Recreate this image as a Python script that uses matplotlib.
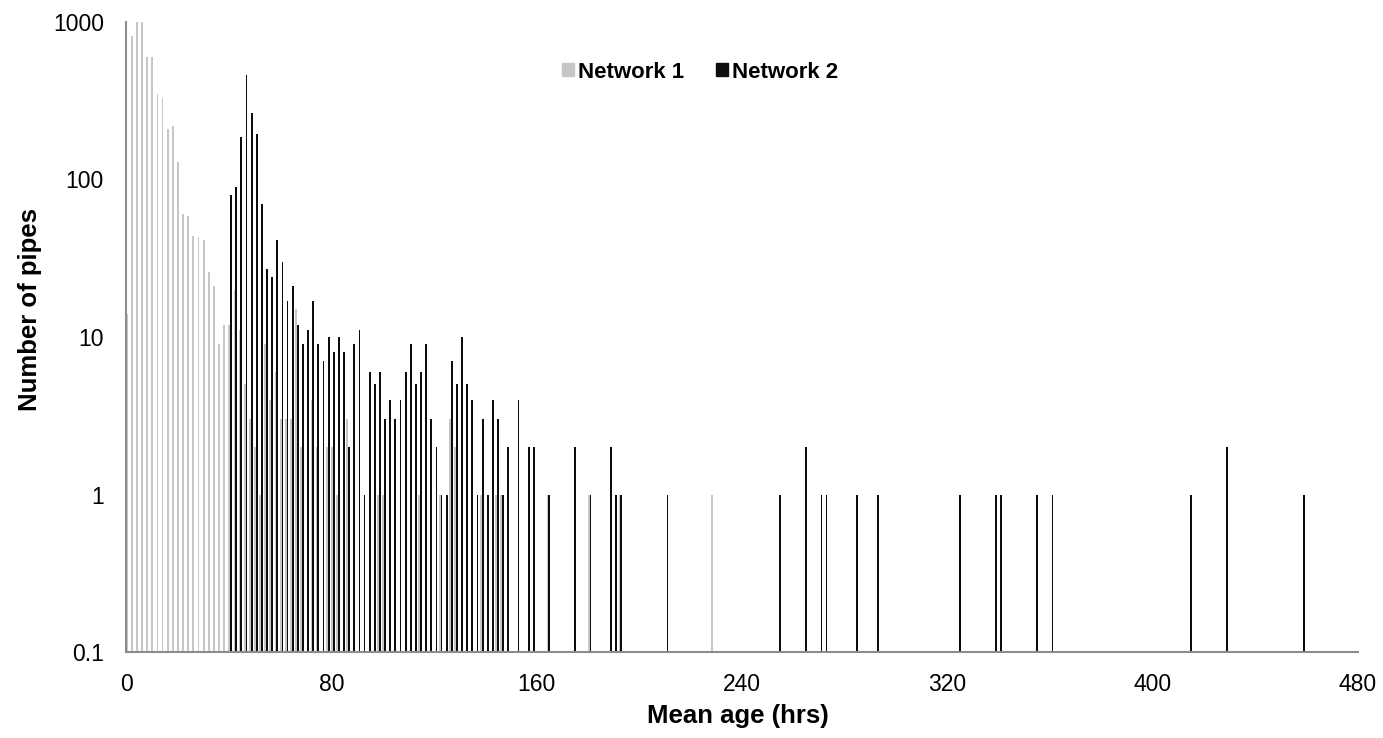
import numpy as np
import matplotlib
matplotlib.use("Agg")
import matplotlib.pyplot as plt
from matplotlib.patches import Patch

plt.rcParams['font.family'] = ['Liberation Sans', 'DejaVu Sans']

# Network 1 (grey): mean age bin (hrs) and number of pipes
hrs1 = [0, 2, 4, 6, 8, 10, 12, 14, 16, 18, 20, 22, 24, 26, 28, 30, 32, 34, 36, 38,
        40, 42, 44, 46, 48, 50, 52, 54, 56, 58, 60, 62, 64, 66, 68, 72, 74, 78, 80,
        82, 86, 98, 100, 114, 122, 126, 128, 138, 144, 146, 164, 180, 192, 228]
n1 = [14, 820, 1000, 1000, 600, 600, 350, 330, 210, 220, 130, 60, 59, 44, 43, 41, 26, 21, 9, 12,
      12, 20, 11, 5, 3, 2, 1, 9, 4, 6, 3, 3, 3, 15, 2, 4, 2, 2, 2,
      1, 3, 1, 1, 1, 1, 3, 2, 1, 1, 1, 1, 1, 1, 1]

# Network 2 (black)
hrs2 = [40, 42, 44, 46, 48, 50, 52, 54, 56, 58, 60, 62, 64, 66, 68, 70, 72, 74, 76, 78,
        80, 82, 84, 86, 88, 90, 92, 94, 96, 98, 100, 102, 104, 106, 108, 110, 112, 114, 116, 118,
        120, 122, 124, 126, 128, 130, 132, 134, 136, 138, 140, 142, 144, 146, 148, 152, 156, 158,
        164, 174, 180, 188, 190, 192, 210, 254, 264, 270, 272, 284, 292, 324, 338, 340, 354, 360,
        414, 428, 458]
n2 = [80, 90, 185, 460, 265, 195, 70, 27, 24, 41, 30, 17, 21, 12, 9, 11, 17, 9, 7, 10,
      8, 10, 8, 2, 9, 11, 1, 6, 5, 6, 3, 4, 3, 4, 6, 9, 5, 6, 9, 3,
      2, 1, 1, 7, 5, 10, 5, 4, 1, 3, 1, 4, 3, 1, 2, 4, 2, 2,
      1, 2, 1, 2, 1, 1, 1, 1, 2, 1, 1, 1, 1, 1, 1, 1, 1, 1,
      1, 2, 1]

grey = '#c6c6c6'
black = '#0d0d0d'
axis_col = '#8c8c8c'
base = 0.1

fig = plt.figure(figsize=(13.83, 7.38), dpi=100)
ax = fig.add_axes([126/1383, 1-652/738, (1358-126)/1383, (652-22)/738])

ax.bar(np.array(hrs1) + 0.25, np.array(n1) - base, bottom=base, width=0.72,
       color=grey, linewidth=0, label='Network 1')
ax.bar(np.array(hrs2) + 0.95, np.array(n2) - base, bottom=base, width=0.72,
       color=black, linewidth=0, label='Network 2')

ax.set_yscale('log')
ax.set_ylim(0.1, 1000)
ax.set_xlim(0, 480)
ax.set_yticks([0.1, 1, 10, 100, 1000])
ax.set_yticklabels(['0.1', '1', '10', '100', '1000'])
ax.set_xticks(range(0, 481, 80))
ax.minorticks_off()
ax.tick_params(length=0, labelsize=16.5, pad=15)
ax.tick_params(axis='y', pad=16)

for s in ['top', 'right']:
    ax.spines[s].set_visible(False)
for s in ['left', 'bottom']:
    ax.spines[s].set_color(axis_col)
    ax.spines[s].set_linewidth(1.5)

ax.set_xlabel('Mean age (hrs)', fontsize=18.5, fontweight='bold')
ax.xaxis.set_label_coords(0.497, -0.082)
ax.set_ylabel('Number of pipes', fontsize=18.5, fontweight='bold')
ax.yaxis.set_label_coords(-0.068, 0.543)

handles = [Patch(color=grey, label='Network 1'), Patch(color=black, label='Network 2')]
fig.legend(handles=handles, loc='center', bbox_to_anchor=(700/1383, 1-72/738), ncol=2,
           frameon=False, handlelength=0.55, handleheight=0.55, handletextpad=0.2,
           columnspacing=1.4, prop={'weight': 'bold', 'size': 16})

fig.savefig('out.png', dpi=100)
